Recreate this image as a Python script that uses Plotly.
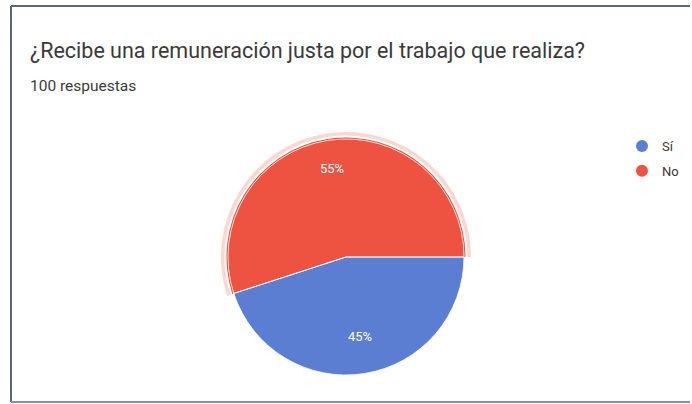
import math
import plotly.graph_objects as go

title_text = "¿Recibe una remuneración justa por el trabajo que realiza?"
subtitle_text = "100 respuestas"
categories = ["Sí", "No"]
values = [45, 55]
colors = ["rgb(92,126,210)", "rgb(238,82,64)"]

W, H = 692, 404
cx, cy, r = 346, 257, 118  # pixel center / radius

def dom(rad):
    return dict(x=[(cx - rad) / W, (cx + rad) / W],
                y=[1 - (cy + rad) / H, 1 - (cy - rad) / H])

fig = go.Figure()
common = dict(labels=categories, values=values, sort=False, direction="clockwise",
              rotation=90, showlegend=False, textinfo="none", hoverinfo="skip")
# highlight halo and white ring around the "No" slice
fig.add_trace(go.Pie(**common, domain=dom(r + 7),
                     marker=dict(colors=["rgba(0,0,0,0)", "rgba(240,140,120,0.35)"])))
fig.add_trace(go.Pie(**common, domain=dom(r + 3.5),
                     marker=dict(colors=["rgba(0,0,0,0)", "white"])))
fig.add_trace(go.Pie(**common, domain=dom(r + 1.5),
                     marker=dict(colors=["rgba(0,0,0,0)", colors[1]])))
fig.add_trace(go.Pie(labels=categories, values=values, sort=False, direction="clockwise",
                     rotation=90, showlegend=False, textinfo="none",
                     domain=dom(r),
                     marker=dict(colors=[colors[0], "rgba(0,0,0,0)"],
                                 line=dict(color="rgba(255,255,255,0.8)", width=1))))

# legend entries with circle markers
for name, col in zip(categories, colors):
    fig.add_trace(go.Scatter(x=[None], y=[None], mode="markers", name=name, legendgroup=name,
                             marker=dict(symbol="circle", size=11, color=col)))

# percentage labels placed from data
total = sum(values)
cum = 0
annotations = []
for v in values:
    theta = math.radians(90 + (cum + v / 2) / total * 360)
    cum += v
    px = cx + 0.76 * r * math.sin(theta)
    py = cy - 0.76 * r * math.cos(theta)
    annotations.append(dict(x=px / W, y=1 - py / H, xref="paper", yref="paper",
                            text=f"{round(v / total * 100)}%", showarrow=False,
                            font=dict(family="Roboto", size=13, color="white")))

annotations.append(dict(x=28 / W, y=1 - 50 / H, xref="paper", yref="paper",
                        xanchor="left", yanchor="middle", text=title_text, showarrow=False,
                        font=dict(family="Roboto", size=21.5, color="#3a3a3a")))
annotations.append(dict(x=28 / W, y=1 - 86 / H, xref="paper", yref="paper",
                        xanchor="left", yanchor="middle", text=subtitle_text, showarrow=False,
                        font=dict(family="Roboto", size=15.5, color="#3a3a3a")))

xr = 690 / W
shapes = [
    dict(type="line", xref="paper", yref="paper", x0=11 / W, x1=xr, y0=1 - 6 / H, y1=1 - 6 / H,
         line=dict(color="#5d6675", width=2)),
    dict(type="line", xref="paper", yref="paper", x0=11 / W, x1=11 / W, y0=1 - 6 / H, y1=1 - 402 / H,
         line=dict(color="#5d6675", width=2)),
    dict(type="line", xref="paper", yref="paper", x0=11 / W, x1=xr, y0=1 - 402 / H, y1=1 - 402 / H,
         line=dict(color="#8a92a0", width=2)),
]

fig.update_layout(
    width=W, height=H, margin=dict(l=0, r=0, t=0, b=0, pad=0),
    paper_bgcolor="white", plot_bgcolor="rgba(0,0,0,0)",
    xaxis=dict(visible=False, showline=False, zeroline=False, showgrid=False, domain=[0, 0.5]),
    yaxis=dict(visible=False, showline=False, zeroline=False, showgrid=False, domain=[0, 0.5]),
    legend=dict(x=622 / W, y=1 - 131 / H, xanchor="left", yanchor="top",
                font=dict(family="Roboto", size=13, color="#3a3a3a"),
                itemsizing="constant", tracegroupgap=5, bgcolor="rgba(0,0,0,0)"),
    annotations=annotations, shapes=shapes,
)

fig.write_html("out.html", config={"displayModeBar": False},
               post_script="document.body.style.margin='0';document.body.style.overflow='hidden';")
